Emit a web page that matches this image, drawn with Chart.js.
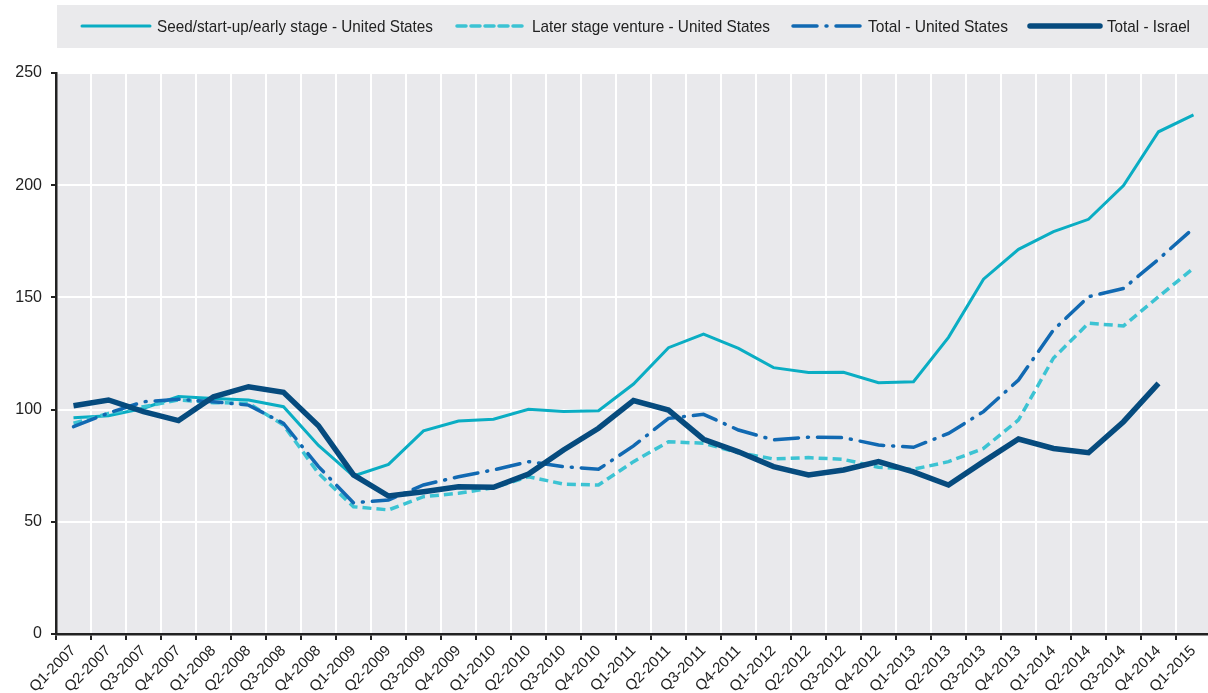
<!DOCTYPE html>
<html>
<head>
<meta charset="utf-8">
<script src="https://cdn.jsdelivr.net/npm/chart.js@4/dist/chart.umd.min.js"></script>
<style>
  html, body { margin: 0; padding: 0; background: #ffffff; overflow: hidden; width: 1208px; height: 693px; }
  #wrap { width: 1212px; height: 693px; }
  canvas { display: block; }
</style>
</head>
<body>
<div id="wrap"><canvas id="c" width="1212" height="693"></canvas></div>
<script>
const categories = ["Q1-2007","Q2-2007","Q3-2007","Q4-2007","Q1-2008","Q2-2008","Q3-2008","Q4-2008",
  "Q1-2009","Q2-2009","Q3-2009","Q4-2009","Q1-2010","Q2-2010","Q3-2010","Q4-2010",
  "Q1-2011","Q2-2011","Q3-2011","Q4-2011","Q1-2012","Q2-2012","Q3-2012","Q4-2012",
  "Q1-2013","Q2-2013","Q3-2013","Q4-2013","Q1-2014","Q2-2014","Q3-2014","Q4-2014","Q1-2015"];

const seriesNames = ["Seed/start-up/early stage - United States", "Later stage venture - United States", "Total - United States", "Total - Israel"];

const seedUS = [96.4, 97.3, 100.6, 105.8, 105.0, 104.3, 101.3, 84.0, 70.4, 75.6, 90.5, 94.9, 95.7, 100.1, 99.1, 99.5,
  111.4, 127.6, 133.6, 127.3, 118.7, 116.5, 116.6, 112.0, 112.4, 132.2, 158.1, 171.4, 179.3, 184.8, 199.8, 223.8, 231.3];
const laterUS = [93.9, 98.3, 101.3, 104.3, 103.1, 102.8, 93.1, 71.6, 56.7, 55.3, 61.2, 62.7, 65.2, 70.1, 66.8, 66.4,
  76.8, 85.7, 85.0, 80.8, 78.0, 78.6, 77.8, 74.3, 73.4, 76.8, 82.7, 95.4, 123.0, 138.5, 137.3, 150.3, 163.0];
const totalUS = [92.4, 98.5, 103.5, 104.6, 103.5, 102.0, 93.9, 74.6, 58.5, 59.7, 66.4, 70.1, 73.1, 76.8, 74.6, 73.4,
  83.8, 96.1, 97.9, 90.9, 86.5, 87.7, 87.5, 84.2, 83.2, 89.4, 99.1, 113.2, 135.5, 150.3, 154.0, 167.0, 180.8];
const totalIsrael = [101.7, 104.3, 99.1, 95.1, 105.7, 110.2, 107.7, 92.8, 70.9, 61.5, 63.4, 65.6, 65.4, 71.3, 82.0, 91.7,
  104.0, 99.8, 86.8, 81.2, 74.6, 70.9, 73.1, 76.8, 72.2, 66.4, 76.8, 86.9, 82.7, 80.8, 94.6, 111.7, null];

const yTicks = [0, 50, 100, 150, 200, 250];

const FONT = "'Liberation Sans Narrow', 'Arial Narrow', 'Liberation Sans', Arial, sans-serif";
const TEXT = '#222222';

const styles = [
  { color: '#0AADC3', width: 3, dash: [] },
  { color: '#3CC3D3', width: 3.5, dash: [9, 5] },
  { color: '#1169B2', width: 3.5, dash: [24, 9, 1, 9] },
  { color: '#064B7E', width: 5.5, dash: [] }
];

const legendPos = [
  { x0: 82, x1: 150, tx: 157, tw: 276 },
  { x0: 457, x1: 526, tx: 532, tw: 238 },
  { x0: 793, x1: 862, tx: 868, tw: 140 },
  { x0: 1030, x1: 1100, tx: 1107, tw: 83 }
];

const bgPlugin = {
  id: 'bg',
  beforeDraw(chart) {
    const { ctx, chartArea: a } = chart;
    ctx.save();
    ctx.fillStyle = '#E9E9EC';
    ctx.fillRect(a.left, a.top, a.right - a.left, a.bottom - a.top);
    ctx.fillStyle = '#EAEAEC';
    ctx.fillRect(57, 5, 1160, 43);
    ctx.restore();
  },
  afterDraw(chart) {
    const { ctx } = chart;
    const y = 26;
    ctx.save();
    legendPos.forEach((it, i) => {
      const s = styles[i];
      ctx.beginPath();
      ctx.strokeStyle = s.color;
      ctx.lineWidth = s.width;
      ctx.lineCap = 'round';
      ctx.setLineDash(s.dash);
      ctx.moveTo(it.x0, y);
      ctx.lineTo(it.x1, y);
      ctx.stroke();
      ctx.setLineDash([]);
      ctx.fillStyle = TEXT;
      ctx.font = "17px " + FONT;
      ctx.textBaseline = 'middle';
      ctx.textAlign = 'left';
      const w = ctx.measureText(seriesNames[i]).width;
      const sx = Math.min(1, it.tw / w);
      ctx.save();
      ctx.translate(it.tx, y + 1);
      ctx.scale(sx, 1);
      ctx.fillText(seriesNames[i], 0, 0);
      ctx.restore();
    });
    ctx.restore();
  }
};

const seriesData = [seedUS, laterUS, totalUS, totalIsrael];
const orders = [3, 2, 1, 0];

new Chart(document.getElementById('c'), {
  type: 'line',
  data: {
    labels: categories,
    datasets: seriesData.map((d, i) => ({
      label: seriesNames[i],
      data: d,
      borderColor: styles[i].color,
      backgroundColor: styles[i].color,
      borderWidth: styles[i].width,
      borderDash: styles[i].dash,
      borderCapStyle: i === 2 ? 'round' : 'butt',
      borderJoinStyle: 'miter',
      pointRadius: 0,
      pointHoverRadius: 0,
      tension: 0,
      fill: false,
      spanGaps: false,
      order: orders[i]
    }))
  },
  options: {
    responsive: false,
    animation: false,
    layout: { padding: { left: 0, right: 1, top: 73, bottom: 0 } },
    plugins: { legend: { display: false }, tooltip: { enabled: false } },
    scales: {
      x: {
        offset: true,
        grid: { offset: true, color: '#FFFFFF', lineWidth: 2, tickColor: '#222222', tickLength: 6, drawOnChartArea: true },
        border: { color: '#222222', width: 2.5 },
        ticks: {
          color: TEXT, font: { family: FONT, size: 15 },
          minRotation: 45, maxRotation: 45, autoSkip: false, padding: 2
        },
        afterFit(scale) { scale.height = 59; }
      },
      y: {
        min: 0, max: 250,
        afterBuildTicks(scale) { scale.ticks = yTicks.map(v => ({ value: v })); },
        grid: { color: '#FFFFFF', lineWidth: 2, tickColor: '#222222', tickLength: 5 },
        border: { color: '#222222', width: 2.5 },
        ticks: { color: TEXT, font: { family: FONT, size: 16 }, padding: 9 },
        afterFit(scale) { scale.width = 56; }
      }
    }
  },
  plugins: [bgPlugin]
});
</script>
</body>
</html>
